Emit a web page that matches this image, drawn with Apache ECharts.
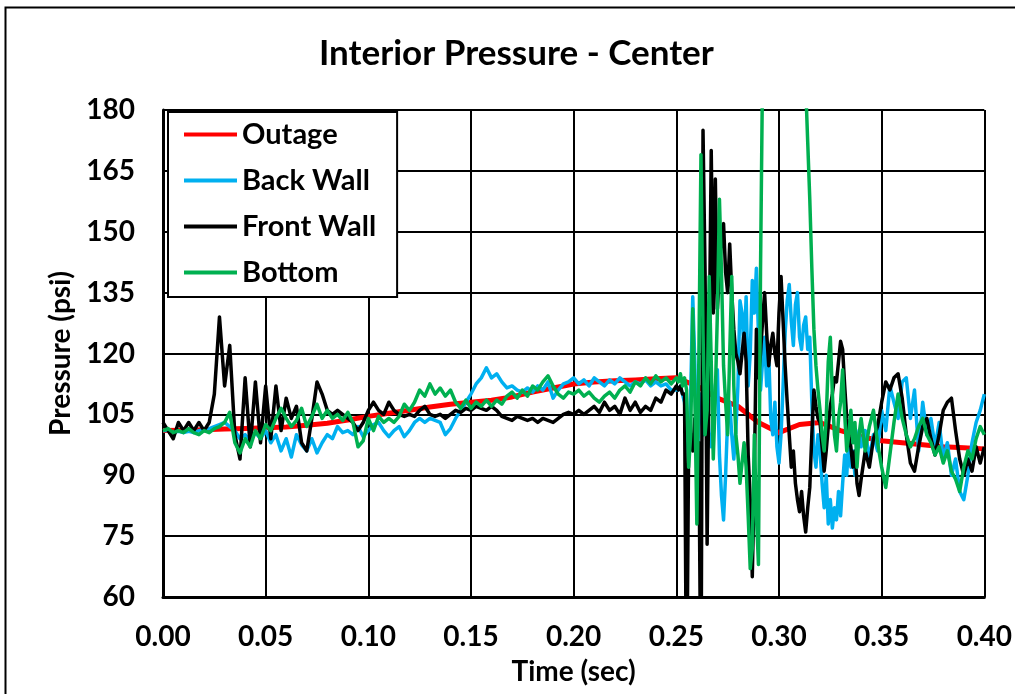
<!DOCTYPE html>
<html>
<head>
<meta charset="utf-8">
<script src="https://cdn.jsdelivr.net/npm/echarts@6/dist/echarts.min.js"></script>
<style>
html,body{margin:0;padding:0;background:#fff;}
#chart{width:1015px;height:694px;}
</style>
</head>
<body>
<div id="chart"></div>
<script>
// ---- data ----
const seriesNames = ['Outage', 'Back Wall', 'Front Wall', 'Bottom'];
const xTicks = ['0.00','0.05','0.10','0.15','0.20','0.25','0.30','0.35','0.40'];
const yTicks = [60, 75, 90, 105, 120, 135, 150, 165, 180];

// sample times: 0-0.25 every 0.0025 s, 0.251-0.340 every 0.001 s, 0.342-0.400 every 0.002 s
const timeA = []; for (let i = 0; i <= 100; i++) timeA.push(+(i * 0.0025).toFixed(4));
const timeB = []; for (let i = 251; i <= 340; i++) timeB.push(i / 1000);
const timeC = []; for (let i = 171; i <= 200; i++) timeC.push(+(i * 0.002).toFixed(3));
const times = timeA.concat(timeB, timeC);

// Outage (red) sampled every 0.01 s
const outageTime = [0,0.01,0.02,0.03,0.04,0.05,0.06,0.07,0.08,0.09,0.10,0.11,0.12,0.13,0.14,0.15,0.16,0.17,0.18,0.19,0.20,0.21,0.22,0.23,0.24,0.25,0.26,0.27,0.28,0.29,0.30,0.31,0.32,0.33,0.34,0.35,0.36,0.37,0.38,0.39,0.40];
const outage = [101,101.1,101.2,101.4,101.5,101.7,101.9,102.3,102.8,103.6,104.5,105.3,106,106.8,107.5,108,108.5,109.3,110.5,111.5,112.5,113,113.3,113.5,113.8,114,112,109,107,103,100.5,102.5,103,101,99.5,98.5,98,97.5,97,96.8,96.5];

const backWallA = [
101,101,100.5,100.8,100.5,100.8,100.5,101,101.2,101.5,
102,102.5,103,102,101,99,100,98.5,100.5,99,
101,98,100,96,99,94.5,100,97.5,96,99,
95.5,98,100,99,102,100.5,101,100,102,99.5,
101,102.5,103,101,99.5,101,102,99.5,101,103,
104,103,104,103.5,103,100,101.5,104,106,108,
110,112.5,114,116.5,114,115,113,111.5,112,111,
110.5,111.5,110.5,112,111,113,109,111,112.5,113,
114,112.5,113.5,112,114,113,112,113.5,112.5,114,
113,112,113,112.5,113.5,112,113,112,112.5,111,
111];
const backWallB = [
111,112,110,108,100,95,110,134,118,92,
103,110,100,118,108,100,97,102,112,116,
95,85,79,90,104,108,100,94,101,112,
133,130,120,134,112,120,138,130,141,125,
111,118,124,112,120,104,100,108,97,93,
100,112,125,133,137,128,122,132,135,124,
121,127,129,121,124,108,96,92,100,96,
88,82,90,78,84,77,82,79,86,80,
88,95,90,99,92,96,90,98,101,97];
const backWallC = [
101,94,100,96,106,101,112,108,104,113,
114,104,111,96,108,100,104,97,103,94,
98,90,94,86,84,90,98,103,106,110];

const frontWallA = [
103,101,99,103,101,103,101,103,101,103,
110,129,112,122,100,94,114,97,113,98,
112,99,112,101,109,104,107,98,96,104,
113,110,106,105,106,105,104,103,101,103,
106,108,106,105,108,106,105,104.5,105,104.5,
106,107,105,104.5,105,104,105,106,105.5,106.5,
106,107,106.5,106,107,106,104.5,104,103.5,104.5,
104,103.5,104,103,104,103.5,103,104,105,105.5,
105,106,105,106,107,105.5,108,106,107,105,
109,106,108,105.5,107,106,109,108,111,110,
112];
const frontWallB = [
111,112,110,110,30,98,100,96,104,94,
98,30,175,140,73,120,170,130,163,131,
140,148,152,140,135,147,135,126,120,118,
115,120,125,118,95,84,65,90,126,114,
120,128,135,125,117,122,125,120,117,130,
139,128,117,108,100,92,96,88,84,81,
86,80,76,82,87,100,111,107,104,103,
97,91,96,102,107,110,114,113,118,123,
121,112,104,100,97,92,96,88,85,89];
const frontWallC = [
96,92,99,102,108,113,111,114,115,109,
100,93,91,97,102,104,99,95,100,106,
108,109,101,94,90,94,91,97,93,97];

const bottomA = [
101,101.5,100.5,101,100.5,101.5,100.5,100,101,100.5,
101.5,102,103,105.5,98,95.5,99,97,101,99,
102.5,101,104,106.5,104,102,103.5,106.5,102,104.5,
107.5,104,106,104,105,103.5,105.5,103,97,98.5,
104,101,104.5,103,104,103,104.5,107.5,106,108,
111,109.5,112.5,110,111.5,109.5,111,108,106.5,108.5,
106.5,108,107,108.5,107,108.5,107.5,109.5,110.5,109,
111,109.5,112,111,113,114.5,112,110,109,110.5,
110,111,109.5,110.5,109,108,109.5,110.5,109,111,
112,110.5,113,112,114,112.5,114.5,113,114,112.5,
114];
const bottomB = [
113,115,112,114,111,92,100,131,110,78,
120,169,125,100,106,139,118,94,110,130,
158,140,117,108,100,120,139,112,100,95,
88,93,98,92,80,67,72,100,80,68,
140,190,230,240,240,240,240,240,240,240,
240,240,240,240,240,240,240,240,240,240,
240,230,186,172,158,141,126,117,111,106,
100,96,104,118,124,110,100,96,104,108,
116,105,96,100,106,98,103,92,100,104];
const bottomC = [
96,102,106,98,92,87,95,103,110,104,
100,97,99,102,104,100,98,95,97,93,
96,91,89,86,92,96,94,99,102,100];

const backWall = backWallA.concat(backWallB, backWallC);
const frontWall = frontWallA.concat(frontWallB, frontWallC);
const bottom = bottomA.concat(bottomB, bottomC);

function pairs(ts, vs) { return ts.map((t, i) => [t, vs[i]]); }

const colors = ['#FF0000', '#00B0F0', '#000000', '#00B050'];
const FONT = 'Lato';

const chart = echarts.init(document.getElementById('chart'), null, {renderer: 'canvas'});
const mkSeries = (name, data, color, w) => ({
  name, type: 'line', data, showSymbol: false, symbol: 'none', sampling: null,
  clip: true, lineStyle: {color, width: w, join: 'round'}, itemStyle: {color},
  emphasis: {disabled: true}, animation: false
});

chart.setOption({
  animation: false,
  backgroundColor: '#ffffff',
  title: {
    text: 'Interior Pressure - Center', left: 314, top: 31,
    textStyle: {fontFamily: FONT, fontWeight: 'bold', fontSize: 35, color: '#000'}
  },
  graphic: [{
    type: 'rect', left: 3, top: 5, shape: {x: 0, y: 0, width: 1040, height: 720},
    style: {fill: 'none', stroke: '#000', lineWidth: 2}, silent: true, z: -10
  }],
  legend: {
    data: seriesNames, orient: 'vertical', left: 168, top: 112,
    icon: 'rect', itemWidth: 53, itemHeight: 4, itemGap: 15,
    padding: [7, 21, 9, 16],
    backgroundColor: '#fff', borderColor: '#000', borderWidth: 2,
    textStyle: {fontFamily: FONT, fontWeight: 'bold', fontSize: 29, color: '#000', lineHeight: 31},
    z: 10
  },
  grid: {left: 163, right: 30, top: 110, bottom: 97, containLabel: false},
  xAxis: {
    type: 'value', min: 0, max: 0.4, interval: 0.05,
    name: 'Time (sec)', nameLocation: 'middle', nameGap: 61,
    nameTextStyle: {fontFamily: FONT, fontWeight: 'bold', fontSize: 28, color: '#000'},
    axisLine: {show: true, lineStyle: {color: '#000', width: 3}},
    axisTick: {show: false},
    axisLabel: {margin: 26, fontFamily: FONT, fontWeight: 'bold', fontSize: 28, color: '#000',
      formatter: v => xTicks[Math.round(v / 0.05)]},
    splitLine: {show: true, lineStyle: {color: '#000', width: 2}}
  },
  yAxis: {
    type: 'value', min: 60, max: 180, interval: 15,
    name: 'Pressure (psi)', nameLocation: 'middle', nameGap: 88, nameRotate: 90,
    nameTextStyle: {fontFamily: FONT, fontWeight: 'bold', fontSize: 28, color: '#000'},
    axisLine: {show: true, lineStyle: {color: '#000', width: 3}},
    axisTick: {show: false},
    axisLabel: {margin: 28, fontFamily: FONT, fontWeight: 'bold', fontSize: 28, color: '#000',
      formatter: v => String(yTicks[Math.round((v - 60) / 15)])},
    splitLine: {show: true, lineStyle: {color: '#000', width: 2}}
  },
  series: [
    mkSeries(seriesNames[0], pairs(outageTime, outage), colors[0], 5),
    mkSeries(seriesNames[1], pairs(times, backWall), colors[1], 3.5),
    mkSeries(seriesNames[2], pairs(times, frontWall), colors[2], 3.5),
    mkSeries(seriesNames[3], pairs(times, bottom), colors[3], 3.5)
  ]
});
</script>
</body>
</html>
